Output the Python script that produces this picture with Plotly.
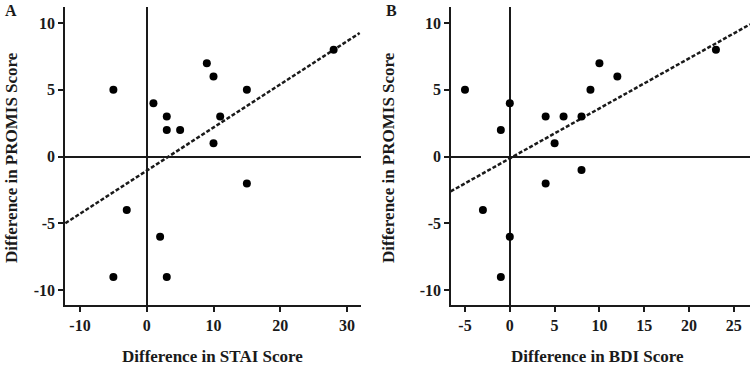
import plotly.graph_objects as go

# Panel A: STAI vs PROMIS
stai_diff = [-5, 1, 3, 3, 5, 9, 10, 11, 15, 10, 28, 15, -3, 2, -5, 3]
promis_a = [5, 4, 3, 2, 2, 7, 6, 3, 5, 1, 8, -2, -4, -6, -9, -9]
# Panel B: BDI vs PROMIS
bdi_diff = [-5, 0, -1, 4, 6, 8, 5, 9, 10, 12, 23, 8, 4, -3, 0, -1]
promis_b = [5, 4, 2, 3, 3, 3, 1, 5, 7, 6, 8, -1, -2, -4, -6, -9]

# Fit lines: x extent and y values at ends
fit_a_x = [-12.2, 31.9]
fit_a_y = [-4.98, 9.25]
fit_b_x = [-6.6, 26.8]
fit_b_y = [-2.6, 9.9]

x_ticks_a = [-10, 0, 10, 20, 30]
x_ticks_b = [-5, 0, 5, 10, 15, 20, 25]
y_ticks = [-10, -5, 0, 5, 10]

INK = "#1a1a1a"
FONT = "Liberation Serif, Times New Roman, serif"


def bold(vals):
    return [f"<b>{v}</b>" for v in vals]


fig = go.Figure()
fig.add_trace(go.Scatter(x=fit_a_x, y=fit_a_y, mode="lines",
                         line=dict(color=INK, width=2.5, dash="4px,2px"),
                         xaxis="x", yaxis="y", showlegend=False, hoverinfo="skip"))
fig.add_trace(go.Scatter(x=stai_diff, y=promis_a, mode="markers",
                         marker=dict(color="black", size=8),
                         xaxis="x", yaxis="y", showlegend=False))
fig.add_trace(go.Scatter(x=fit_b_x, y=fit_b_y, mode="lines",
                         line=dict(color=INK, width=2.5, dash="4px,2px"),
                         xaxis="x2", yaxis="y2", showlegend=False, hoverinfo="skip"))
fig.add_trace(go.Scatter(x=bdi_diff, y=promis_b, mode="markers",
                         marker=dict(color="black", size=8),
                         xaxis="x2", yaxis="y2", showlegend=False))

W, H = 750, 365
ydom = [1 - 305 / H, 1 - 7 / H]
xdom_a = [65 / W, 361 / W]
xdom_b = [451 / W, 1.0]
xr_a = [-12.25, 32.1]
xr_b = [-6.56, 26.8]
yr = [-11.1, 11.2]

axis_common = dict(showgrid=False, showline=True, linecolor=INK, linewidth=1.5,
                   ticks="outside", ticklen=5, tickwidth=1.5, tickcolor=INK,
                   zeroline=True, zerolinecolor=INK, zerolinewidth=1.5,
                   tickfont=dict(family=FONT, size=16, color=INK),
                   mirror=False)
# overlay axes that add the inner half of the crossing tick marks
inner = dict(showgrid=False, showline=False, zeroline=False, showticklabels=False,
             ticks="inside", ticklen=5, tickwidth=1.5, tickcolor=INK)

fig.update_layout(
    width=W, height=H,
    margin=dict(l=0, r=0, t=0, b=0),
    paper_bgcolor="white", plot_bgcolor="white",
    xaxis=dict(domain=xdom_a, range=xr_a, tickvals=x_ticks_a,
               ticktext=bold(x_ticks_a), anchor="y", **axis_common),
    yaxis=dict(domain=ydom, range=yr, tickvals=y_ticks, ticktext=bold(y_ticks),
               anchor="x", **axis_common),
    xaxis2=dict(domain=xdom_b, range=xr_b, tickvals=x_ticks_b,
                ticktext=bold(x_ticks_b), anchor="y2", **axis_common),
    yaxis2=dict(domain=ydom, range=yr, tickvals=y_ticks, ticktext=bold(y_ticks),
                anchor="x2", **axis_common),
    xaxis3=dict(domain=xdom_a, range=xr_a, tickvals=x_ticks_a, anchor="y", overlaying="x", **inner),
    yaxis3=dict(domain=ydom, range=yr, tickvals=y_ticks, anchor="x", overlaying="y", **inner),
    xaxis4=dict(domain=xdom_b, range=xr_b, tickvals=x_ticks_b, anchor="y2", overlaying="x2", **inner),
    yaxis4=dict(domain=ydom, range=yr, tickvals=y_ticks, anchor="x2", overlaying="y2", **inner),
)

title_font = dict(family=FONT, size=17, color=INK)
ann = [
    dict(text="<b>A</b>", x=3 / W, y=1 - 10 / H, xanchor="left", yanchor="middle",
         font=dict(family=FONT, size=16, color=INK)),
    dict(text="<b>B</b>", x=384 / W, y=1 - 10 / H, xanchor="left", yanchor="middle",
         font=dict(family=FONT, size=16, color=INK)),
    dict(text="<b>Difference in PROMIS Score</b>", x=11 / W, y=1 - 158 / H, textangle=-90,
         xanchor="center", yanchor="middle", font=title_font),
    dict(text="<b>Difference in PROMIS Score</b>", x=388 / W, y=1 - 158 / H, textangle=-90,
         xanchor="center", yanchor="middle", font=title_font),
    dict(text="<b>Difference in STAI Score</b>", x=212 / W, y=1 - 356 / H,
         xanchor="center", yanchor="middle", font=title_font),
    dict(text="<b>Difference in BDI Score</b>", x=597 / W, y=1 - 356 / H,
         xanchor="center", yanchor="middle", font=title_font),
]
for a in ann:
    a.update(xref="paper", yref="paper", showarrow=False)
fig.update_layout(annotations=ann)

fig.write_html("out.html", config={"displayModeBar": False},
               post_script="document.body.style.margin='0px';document.body.style.overflow='hidden';")
